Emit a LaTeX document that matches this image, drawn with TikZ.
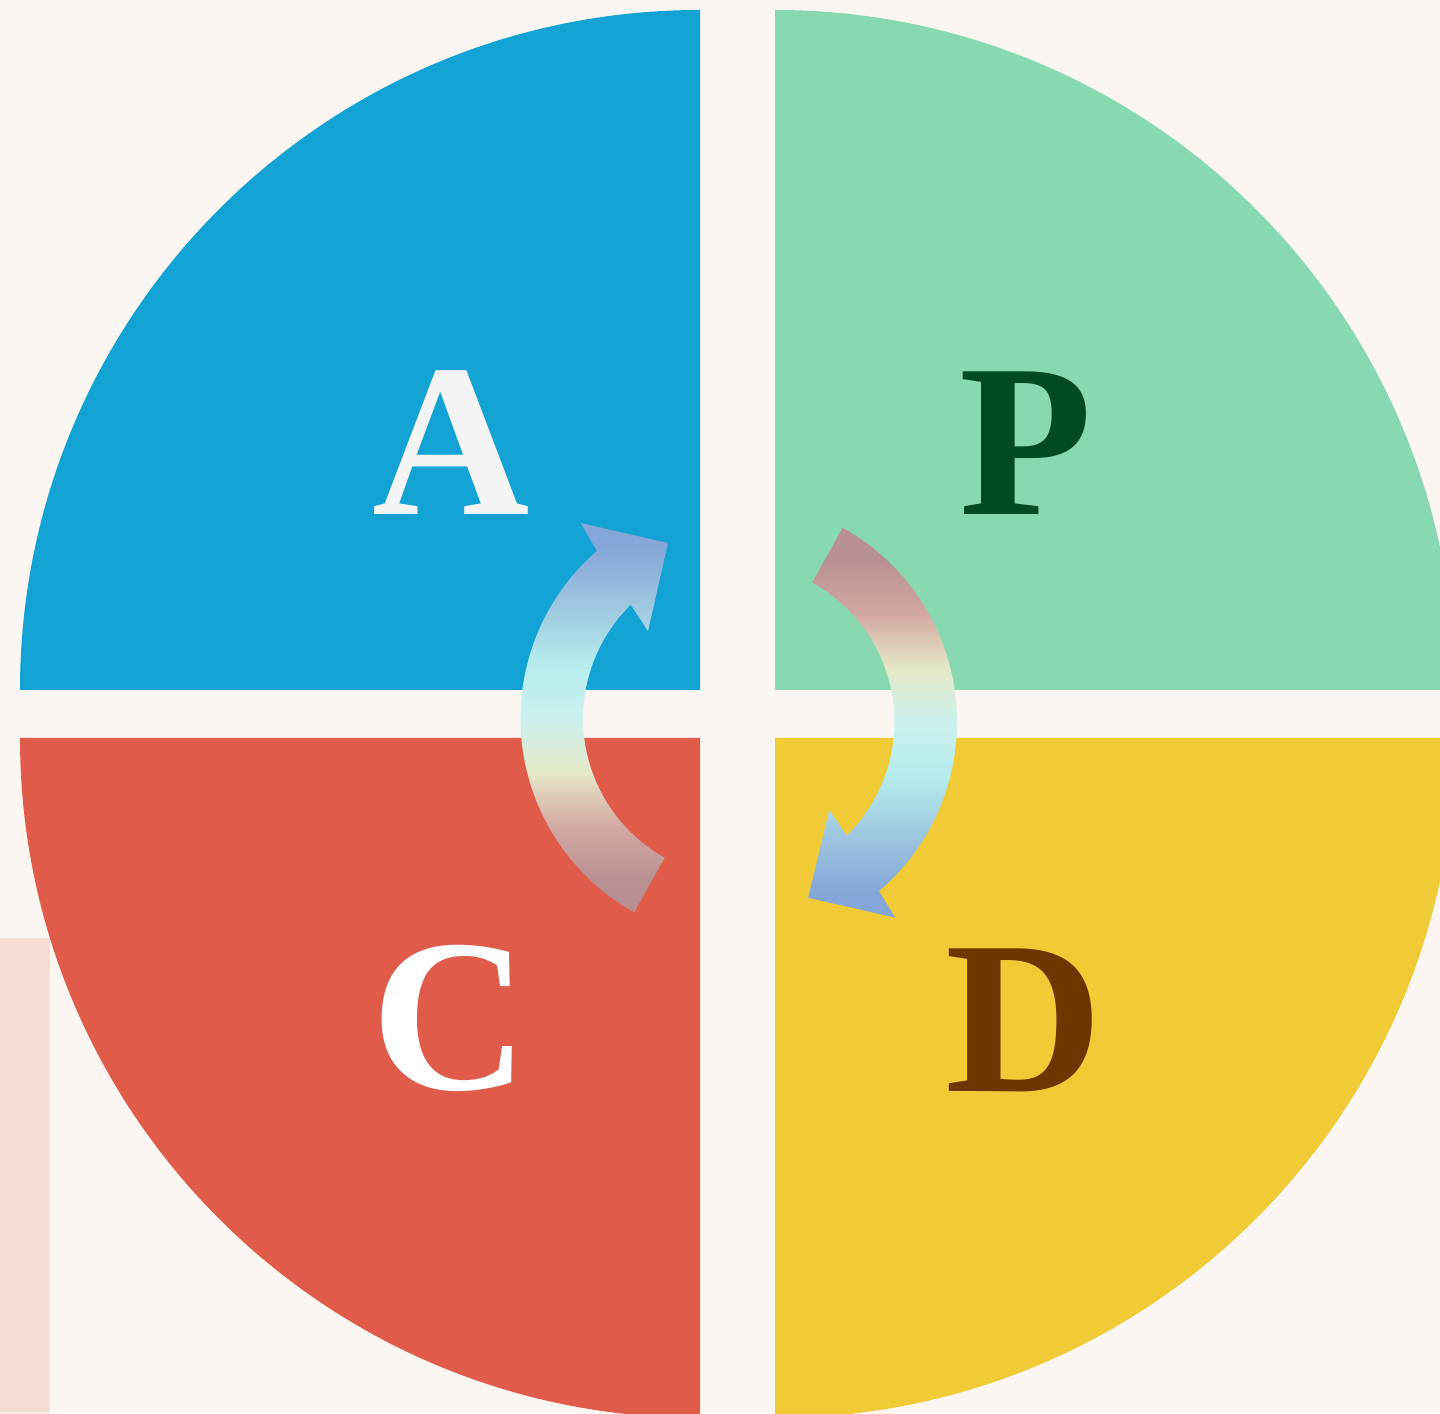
\documentclass[tikz,border=0pt]{standalone}
\usepackage{fontspec}
\setmainfont{Liberation Serif}
\definecolor{cbCream}{HTML}{FBF6F2}
\definecolor{cbBlush}{HTML}{F7DDD6}
\definecolor{cbBlue}{HTML}{13A2D4}
\definecolor{cbGreen}{HTML}{88D9B1}
\definecolor{cbRed}{HTML}{E15B4A}
\definecolor{cbYellow}{HTML}{F1CB36}
\definecolor{cbSnow}{HTML}{F4F4F4}
\definecolor{cbPine}{HTML}{004A24}
\definecolor{cbBrown}{HTML}{6D3500}
\definecolor{arcMauve}{HTML}{B89092}
\definecolor{arcPink}{HTML}{D4A8A2}
\definecolor{arcStraw}{HTML}{E4E8C8}
\definecolor{arcIce}{HTML}{CBF1EF}
\definecolor{arcCyan}{HTML}{B4ECEC}
\definecolor{arcSky}{HTML}{9CC4E0}
\definecolor{arcBlue}{HTML}{84A6D8}
\usepackage{tikz}
\pgfdeclareverticalshading{checkshade}{100bp}{color(0bp)=(arcMauve); color(25bp)=(arcMauve);
  color(29bp)=(arcMauve); color(36bp)=(arcPink); color(43bp)=(arcStraw); color(50bp)=(arcIce);
  color(57bp)=(arcCyan); color(65bp)=(arcSky); color(72bp)=(arcBlue); color(100bp)=(arcBlue)}
\pgfdeclareverticalshading{planshade}{100bp}{color(0bp)=(arcBlue); color(25bp)=(arcBlue);
  color(28bp)=(arcBlue); color(35bp)=(arcSky); color(43bp)=(arcCyan); color(50bp)=(arcIce);
  color(57bp)=(arcStraw); color(64bp)=(arcPink); color(71bp)=(arcMauve); color(100bp)=(arcMauve)}

\begin{document}
\begin{tikzpicture}[
    x=0.1mm, y=0.1mm,
    letter/.style={inner sep=0pt, font=\fontsize{62}{62}\selectfont\bfseries},
    quarter/.style={draw=none}
  ]
  \useasboundingbox (0,0) rectangle (1440,1413);
  \clip (0,0) rectangle (1440,1413);
  \fill[cbCream] (0,0) rectangle (1440,1413);
  \fill[cbBlush] (0,0) rectangle (50,475);

  \fill[quarter, cbBlue] (700,723) -- (20,723) arc[start angle=180, end angle=90, radius=680] -- cycle;
  \fill[quarter, cbGreen] (775,723) -- (775,1403) arc[start angle=90, end angle=0, radius=680] -- cycle;
  \fill[quarter, cbRed] (700,675) -- (20,675) arc[start angle=180, end angle=270, radius=680] -- cycle;
  \fill[quarter, cbYellow] (775,675) -- (1455,675) arc[start angle=0, end angle=-90, radius=680] -- cycle;

  \node[letter, text=cbSnow] (act) at (451,970.5) {A};
  \node[letter, text=cbPine] (plan) at (1026.5,969.5) {P};
  \node[letter, text=white] (check) at (450,394.5) {C};
  \node[letter, text=cbBrown] (do) at (1024,393) {D};

  \begin{scope}[shift={(742.5,694.5)}]
    \shade[shading=checkshade] (240.8:222) arc[start angle=240.8, end angle=131, radius=222]
      -- (129.6:253.6) -- (113:190.7) -- (137.2:128.8) -- (134.5:159.5)
      arc[start angle=134.5, end angle=240.8, radius=159.5] -- cycle;
  \end{scope}
  \begin{scope}[shift={(735,691)}]
    \shade[shading=planshade] (61:222) arc[start angle=61, end angle=-49.6, radius=222]
      -- (-50.7:252.8) -- (-67.4:190.4) -- (-43:129) -- (-45.5:159.4)
      arc[start angle=-45.5, end angle=61, radius=159.5] -- cycle;
  \end{scope}
\end{tikzpicture}
\end{document}
